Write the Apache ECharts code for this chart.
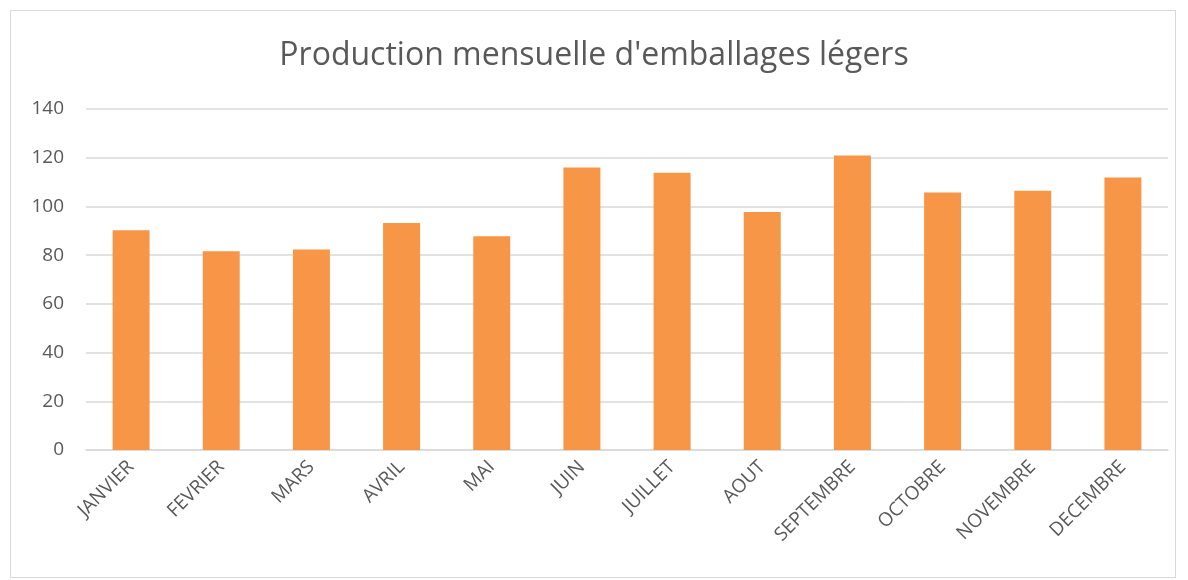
<!DOCTYPE html>
<html>
<head>
<meta charset="utf-8">
<script src="https://cdn.jsdelivr.net/npm/echarts@6/dist/echarts.min.js"></script>
<style>
html, body { margin: 0; padding: 0; background: #fff; }
#frame { position: absolute; left: 10px; top: 10px; width: 1166px; height: 568px; border: 1px solid #d9d9d9; box-sizing: border-box; }
#main { position: absolute; left: 0; top: 0; width: 1188px; height: 580px; }
</style>
</head>
<body>
<div id="frame"></div>
<div id="main"></div>
<script>
// données
var mois = ['JANVIER', 'FEVRIER', 'MARS', 'AVRIL', 'MAI', 'JUIN', 'JUILLET', 'AOUT', 'SEPTEMBRE', 'OCTOBRE', 'NOVEMBRE', 'DECEMBRE'];
var production = [90.2, 81.6, 82.3, 93.2, 87.8, 116.0, 113.8, 97.7, 120.9, 105.7, 106.4, 111.9];

var chart = echarts.init(document.getElementById('main'));
var police = '"Open Sans", "Liberation Sans", sans-serif';

var option = {
	animation: false,
	title: {
		text: "Production mensuelle d'emballages légers",
		left: 'center',
		top: 35,
		textStyle: { color: '#595959', fontSize: 32, fontWeight: 'normal', fontFamily: police }
	},
	grid: { left: 86, right: 20, top: 109, bottom: 130 },
	xAxis: {
		type: 'category',
		data: mois,
		axisLine: { lineStyle: { color: '#d9d9d9', width: 1.5 } },
		axisTick: { show: false },
		axisLabel: { rotate: 45, color: '#595959', fontSize: 19, fontFamily: police, margin: 14 }
	},
	yAxis: {
		type: 'value',
		min: 0,
		max: 140,
		interval: 20,
		axisLine: { show: false },
		axisTick: { show: false },
		splitLine: { lineStyle: { color: '#d9d9d9', width: 1.5 } },
		axisLabel: { color: '#595959', fontSize: 19, fontFamily: police, margin: 22 }
	},
	series: [{
		type: 'bar',
		data: production,
		barWidth: '41%',
		itemStyle: { color: '#f79646' }
	}]
};
chart.setOption(option);
</script>
</body>
</html>
